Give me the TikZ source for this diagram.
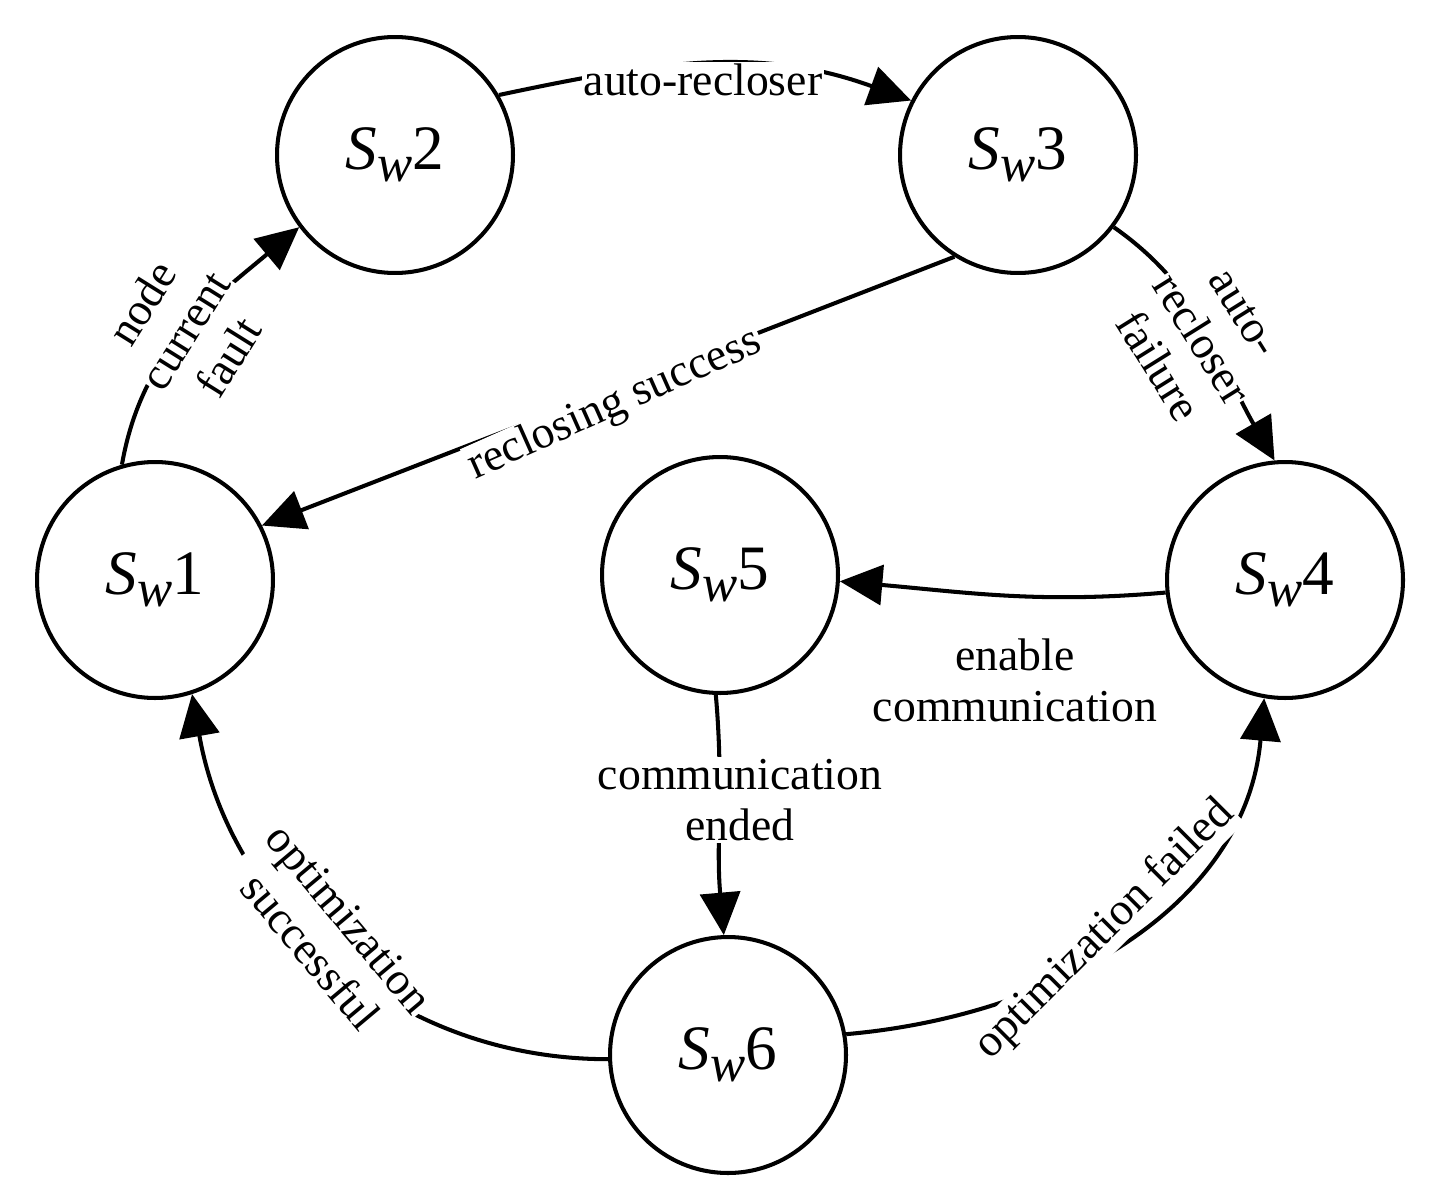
\documentclass[tikz,border=0pt]{standalone}
\usepackage{fontspec}
\setmainfont{Liberation Serif}
\usetikzlibrary{arrows.meta}
\newcommand{\swn}[1]{{\itshape S\raisebox{-0.4ex}{\fontsize{30}{32}\selectfont w}}#1}
\begin{document}
\begin{tikzpicture}[x=0.02cm,y=-0.02cm,
  st/.style={circle,draw,line width=2.3pt,minimum size=4.72cm,inner sep=0pt,font=\fontsize{36}{40}\selectfont},
  ed/.style={line width=2.3pt,-{Triangle[length=0.85cm,width=0.8cm]}},
  lb/.style={fill=white,inner sep=1pt,align=center,font=\fontsize{26}{29}\selectfont}]
\useasboundingbox (0,0) rectangle (1446,1203);
\node[st] (s1) at (155,580) {\swn{1}};
\node[st] (s2) at (395,155) {\swn{2}};
\node[st] (s3) at (1018,155) {\swn{3}};
\node[st] (s4) at (1285,580) {\swn{4}};
\node[st] (s5) at (720,575) {\swn{5}};
\node[st] (s6) at (728,1055) {\swn{6}};
\draw[ed] (s1.106) to[out=80,in=220] (s2.217);
\draw[ed] (s2.30) to[out=12,in=160] (s3.153);
\draw[ed] (s3.-37) to[out=-35,in=120] (s4.95);
\draw[ed] (s3.-122) -- (s1.27);
\draw[ed] (s4.186) to[out=185,in=-5] (s5.-3);
\draw[ed] (s5.-92) to[out=-85,in=95] (s6.92);
\draw[ed] (s6.182) to[out=180,in=-80] (s1.-72);
\draw[ed] (s6.10) to[out=5,in=-95] (s4.-100);
\node[lb,rotate=58] (l1) at (185,330) {node\\current\\fault};
\node[lb] (l2) at (703,80) {auto-recloser};
\node[lb,rotate=-58] (l3) at (1200,340) {auto-\\recloser\\failure};
\node[lb,rotate=24] (l4) at (615,405) {reclosing success};
\node[lb,fill=none] (l5) at (1015,680) {enable\\communication};
\node[lb] (l6) at (740,800) {communication\\ended};
\node[lb,rotate=-50] (l7) at (330,935) {optimization\\successful};
\node[lb,rotate=45] (l8) at (1105,930) {optimization failed};
\end{tikzpicture}
\end{document}
